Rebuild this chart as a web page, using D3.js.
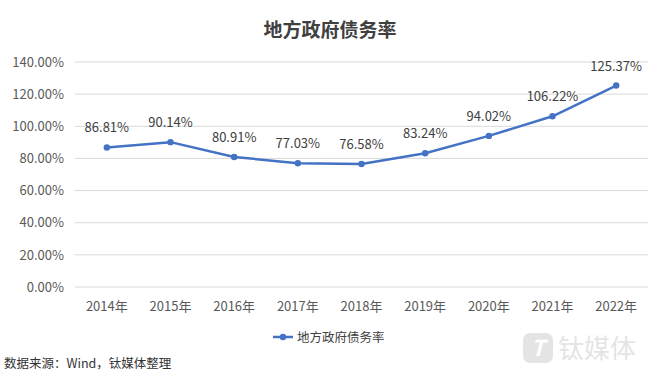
<!DOCTYPE html>
<html><head><meta charset="utf-8">
<script src="https://cdn.jsdelivr.net/npm/d3@7/dist/d3.min.js"></script>
<style>body{margin:0;background:#fff;} svg{display:block;font-family:"Noto Sans CJK SC","Noto Sans",sans-serif;}</style>
</head><body>
<svg id="c" width="660" height="381"></svg>
<script>
const categories = ["2014年","2015年","2016年","2017年","2018年","2019年","2020年","2021年","2022年"];
const values = [86.81, 90.14, 80.91, 77.03, 76.58, 83.24, 94.02, 106.22, 125.37];
const yTicks = [0,20,40,60,80,100,120,140];
const seriesName = "地方政府债务率";
const titleText = "地方政府债务率";
const sourceText = "数据来源：Wind，钛媒体整理";

const svg = d3.select("#c");
const x = d3.scaleBand().domain(categories).range([75,648]);
const y = d3.scaleLinear().domain([0,140]).range([287,62]);
const color = "#4472C4";

svg.append("text").attr("x",330).attr("y",37).attr("text-anchor","middle")
  .attr("font-size",19).attr("font-weight","bold").attr("fill","#404040").text(titleText);

const g = svg.append("g");
g.selectAll("line.grid").data(yTicks).join("line")
  .attr("x1",75).attr("x2",648).attr("y1",d=>y(d)).attr("y2",d=>y(d))
  .attr("stroke","#d9d9d9").attr("stroke-width",1);

const yAxis = d3.axisLeft(y).tickValues(yTicks).tickFormat(d=>d.toFixed(2)+"%").tickSize(0).tickPadding(10);
svg.append("g").attr("transform","translate(74,0)").call(yAxis)
  .call(s=>s.select(".domain").remove())
  .call(s=>s.selectAll("text").attr("font-size",13).attr("fill","#595959").attr("font-family","'Noto Sans CJK SC',sans-serif"));

const xAxis = d3.axisBottom(x).tickSize(0).tickPadding(12);
svg.append("g").attr("transform","translate(0,290)").call(xAxis)
  .call(s=>s.select(".domain").remove())
  .call(s=>s.selectAll("text").attr("font-size",13).attr("fill","#595959").attr("font-family","'Noto Sans CJK SC',sans-serif"));

const cx = d=>x(d)+x.bandwidth()/2;
const line = d3.line().x((d,i)=>cx(categories[i])).y(d=>y(d));
svg.append("path").datum(values).attr("d",line).attr("fill","none")
  .attr("stroke",color).attr("stroke-width",2.5).attr("stroke-linejoin","round");
svg.selectAll("circle.pt").data(values).join("circle")
  .attr("cx",(d,i)=>cx(categories[i])).attr("cy",d=>y(d)).attr("r",3.2).attr("fill",color);
svg.selectAll("text.lbl").data(values).join("text")
  .attr("x",(d,i)=>cx(categories[i])).attr("y",d=>y(d)-15).attr("text-anchor","middle")
  .attr("font-size",13).attr("fill","#404040").text(d=>d.toFixed(2)+"%");

// legend
const lg = svg.append("g").attr("transform","translate(273,337)");
lg.append("line").attr("x1",0).attr("x2",20).attr("y1",0).attr("y2",0).attr("stroke",color).attr("stroke-width",2.5);
lg.append("circle").attr("cx",10).attr("cy",0).attr("r",3.2).attr("fill",color);
lg.append("text").attr("x",24).attr("y",4.5).attr("font-size",12.5).attr("fill","#404040").text(seriesName);

svg.append("text").attr("x",4).attr("y",368).attr("font-size",12.5).attr("fill","#333").text(sourceText);

// watermark
const wm = svg.append("g").attr("opacity",0.22);
wm.append("rect").attr("x",523).attr("y",333).attr("width",30).attr("height",30).attr("rx",7).attr("fill","#888");
wm.append("text").attr("x",538).attr("y",356).attr("text-anchor","middle").attr("font-size",22).attr("font-weight","bold").attr("font-style","italic").attr("fill","#fff").text("T");
wm.append("text").attr("x",558).attr("y",358).attr("font-size",26).attr("fill","#888").text("钛媒体");
</script>
</body></html>
